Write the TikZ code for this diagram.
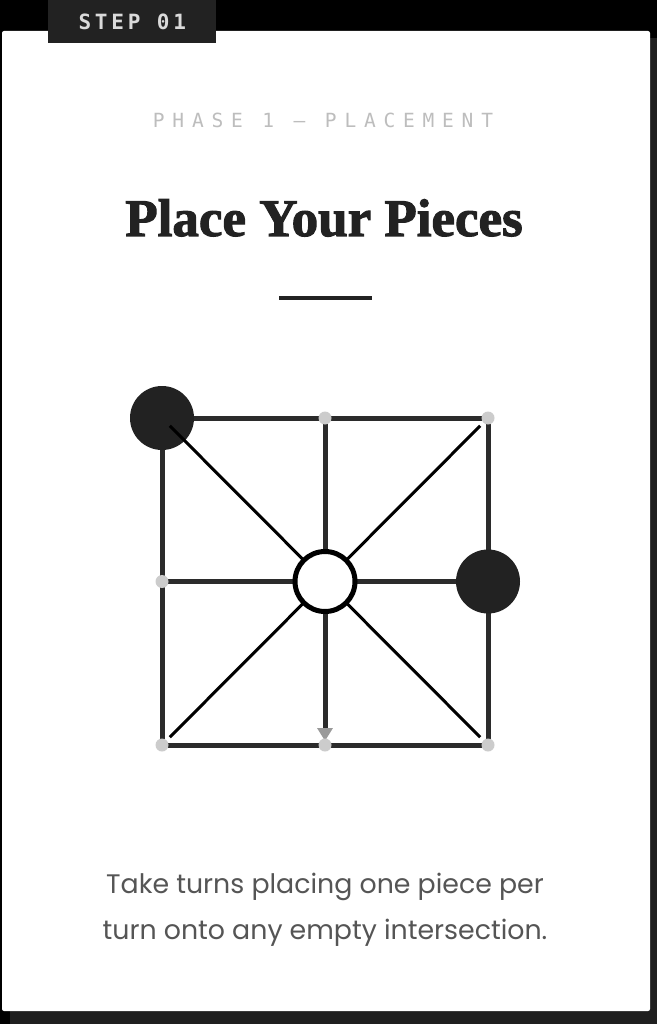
\documentclass[tikz,border=0pt]{standalone}
\usepackage{fontspec}
\usepackage{tikz}
\usetikzlibrary{arrows.meta, positioning, calc}
\setmainfont{Liberation Serif}
\newfontfamily\titlefont[FakeBold=2]{Liberation Serif}
\newfontfamily\phasefont[LetterSpace=40]{DejaVu Sans Mono}
\newfontfamily\tabfont[LetterSpace=18]{DejaVu Sans Mono}
\newfontfamily\blurbfont{Poppins}
\definecolor{step_dark}{HTML}{222222}
\definecolor{step_light}{HTML}{DADADA}
\definecolor{phase_gray}{HTML}{BDBDBD}
\definecolor{board_dark}{HTML}{2B2B2B}
\definecolor{spot_gray}{HTML}{CCCCCC}
\definecolor{tip_gray}{HTML}{9A9A9A}
\definecolor{blurb_gray}{HTML}{555555}
\colorlet{stepdark}{step_dark}
\tikzset{
  card/.style={fill=white,rounded corners=2pt},
  cardshadow/.style={fill=step_dark!90!black},
  tab/.style={rectangle,fill=stepdark,text=step_light,anchor=north west,inner sep=0pt,minimum width=168pt,minimum height=43pt,font=\tabfont\bfseries\fontsize{21}{21}\selectfont},
  phase/.style={text=phase_gray,font=\phasefont\fontsize{19.5}{19.5}\selectfont},
  headline/.style={text=step_dark,anchor=base,font=\titlefont\bfseries\fontsize{53}{53}\selectfont},
  divider/.style={rectangle,fill=stepdark,inner sep=0pt,minimum width=93pt,minimum height=3.5pt},
  blurb/.style={text=blurb_gray,align=center,font=\blurbfont\fontsize{26.8}{46}\selectfont},
  boardline/.style={draw=board_dark,line width=5pt},
  diagline/.style={draw=black,line width=3pt,shorten <=11pt},
  spot/.style={circle,fill=spot_gray,inner sep=0pt,minimum size=13pt},
  blackpiece/.style={circle,fill=stepdark,inner sep=0pt,minimum size=64pt},
  whitepiece/.style={circle,draw=black,line width=5pt,fill=white,inner sep=0pt,minimum size=60pt},
}
\begin{document}
\begin{tikzpicture}[x=1pt,y=-1pt]
	    \useasboundingbox (0,0) rectangle (657,1024);
	    \fill[black] (0,0) rectangle (657,1024);
	    \fill[cardshadow] (10,38) rectangle (657,1024);
	    \fill[card] (2,31) rectangle (650,1011);
	    \node[tab] (tab) at (48,0) {STEP 01};
	    \node[phase] (phase) at (323,120) {PHASE 1 — PLACEMENT};
	    \node[headline] (title) at (324,236) {Place Your Pieces};
	    \node[divider] (rule) at (325.5,298) {};
	    % board points, b-column-row
	    \foreach \i in {0,1,2}
	      \foreach \j in {0,1,2}
	        \coordinate (b-\i-\j) at (162+163*\i,418+163.5*\j);
	    \draw[boardline] (b-0-0) -- (b-2-0) -- (b-2-2) -- (b-0-2) -- cycle;
	    \draw[boardline] (b-1-0) -- (b-1-1);
	    \draw[boardline] (b-0-1) -- (b-2-1);
	    \draw[boardline,-{Triangle[width=15pt,length=13pt,color=tip_gray]},shorten >=4pt] (b-1-1) -- (b-1-2);
	    \foreach \p in {b-1-0,b-2-0,b-0-1,b-0-2,b-1-2,b-2-2}
	      \node[spot] at (\p) {};
	    \node[blackpiece] (blackA) at (b-0-0) {};
	    \node[blackpiece] (blackB) at (b-2-1) {};
	    \foreach \c in {b-0-0,b-2-0,b-0-2,b-2-2}
	      \draw[diagline] (\c) -- (b-1-1);
	    \node[whitepiece] (whiteA) at (b-1-1) {};
	    \node[blurb] (blurb) at (325,910) {Take turns placing one piece per\\turn onto any empty intersection.};
	\end{tikzpicture}
\end{document}
